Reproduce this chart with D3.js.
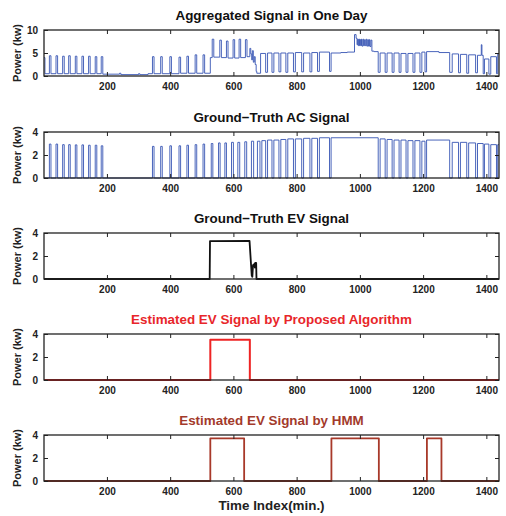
<!DOCTYPE html>
<html>
<head>
<meta charset="utf-8">
<script src="https://cdn.jsdelivr.net/npm/d3@7"></script>
<style>
  body { margin: 0; background: #fff; }
  svg { display: block; font-family: "Liberation Sans", Arial, sans-serif; }
  .title { font-weight: bold; font-size: 13.4px; text-anchor: middle; }
  .tick text { font-weight: bold; font-size: 10px; fill: #222; }
  .ylab { font-weight: bold; font-size: 11px; text-anchor: middle; fill: #222; }
</style>
</head>
<body>
<svg width="506" height="516"></svg>
<script>
// step runs: [time index, value held until next entry]
var aggRuns = [
  [1,4.0],[4,0.5],
  [18,4.4],[23,0.5],[39,4.4],[44,0.5],[60,4.3],[65,0.5],[79,4.4],[84,0.5],[100,4.3],[105,0.5],
  [121,4.3],[126,0.5],[142,4.3],[147,0.5],[163,4.2],[168,0.5],[182,4.2],[187,0.4],
  [240,0.6],[244,0.3],[300,0.5],[304,0.3],[330,0.5],
  [344,4.2],[349,0.5],[370,4.2],[375,0.5],[399,4.2],[404,0.5],[428,4.1],[433,0.6],[453,4.3],[458,0.6],
  [479,4.6],[484,0.6],[504,4.6],[509,0.6],
  [527,4.0],[533,8.0],[538,4.1],[557,7.8],[562,4.0],[578,7.6],[583,3.9],[599,7.9],[604,3.9],
  [618,8.0],[623,4.0],[638,7.9],[643,4.2],
  [652,6.0],[655,4.8],[658,3.5],[660,5.5],[663,3.0],[666,4.2],[669,2.5],[672,1.0],[674,0.6],
  [686,4.9],[702,0.8],[708,5.0],[722,0.8],[728,5.0],[744,0.9],[750,5.0],[766,0.8],[772,5.0],
  [790,0.9],[796,5.1],[816,0.9],[822,5.0],[842,0.9],[848,5.1],[866,1.0],[872,5.2],[904,1.0],
  [909,5.0],[940,5.1],[960,5.2],
  [983,9.0],[988,8.2],[991,6.8],[993,8.0],[995,6.6],[997,8.0],[999,6.6],[1001,7.9],[1003,6.6],
  [1005,8.0],[1007,6.5],[1010,8.0],[1012,6.6],[1015,7.9],[1017,6.6],[1020,8.0],[1022,6.5],
  [1025,7.9],[1027,6.5],[1030,7.9],[1032,6.4],[1035,7.8],[1038,5.4],[1045,5.3],
  [1058,0.8],[1064,5.0],[1080,0.8],[1086,5.0],[1102,0.8],[1108,5.0],[1124,0.8],[1130,4.9],
  [1146,0.8],[1152,4.9],[1168,0.8],[1174,5.0],[1190,0.8],[1196,5.2],[1206,0.9],[1211,5.3],
  [1250,5.1],[1284,0.8],[1292,4.8],[1312,0.7],[1318,4.7],[1338,0.6],[1344,4.6],[1366,0.7],
  [1372,4.5],[1384,6.8],[1386,4.5],[1390,0.5],[1394,3.7],[1408,0.4],[1414,4.2],[1432,0.5],
  [1436,4.8],[1440,4.8]
];

var acRuns = [
  [1,0],
  [18,2.95],[23,0],[39,2.95],[44,0],[60,2.9],[65,0],[79,2.9],[84,0],[100,2.88],[105,0],
  [121,2.88],[126,0],[142,2.85],[147,0],[163,2.85],[168,0],[182,2.8],[187,0],
  [344,2.75],[349,0],[370,2.75],[375,0],[399,2.8],[404,0],[428,2.8],[433,0],[453,2.85],[458,0],
  [479,2.9],[484,0],[504,2.95],[509,0],[530,3.0],[535,0],[553,3.05],[558,0],[573,3.05],[578,0],
  [594,3.1],[600,0],[614,3.1],[620,0],[636,3.15],[642,0],[657,3.2],[664,0],[676,3.2],[684,0],
  [690,3.25],[702,0],[708,3.3],[722,0],[728,3.3],[744,0],[750,3.35],[766,0],[772,3.4],[790,0],
  [796,3.4],[816,0],[822,3.45],[842,0],[848,3.45],[866,0],[872,3.5],[904,0],
  [909,3.5],[1058,0],
  [1064,3.4],[1080,0],[1086,3.35],[1102,0],[1108,3.3],[1124,0],[1130,3.3],[1146,0],
  [1152,3.25],[1168,0],[1174,3.25],[1190,0],[1196,3.2],[1206,0],[1211,3.3],[1284,0],
  [1292,3.1],[1312,0],[1318,3.1],[1338,0],[1344,3.05],[1366,0],[1372,3.0],[1390,0],
  [1394,2.95],[1408,0],[1414,2.9],[1432,0],[1436,2.9],[1440,2.9]
];

// ground truth EV (points, linear)
var evPts = [
  [1,0],[525,0],[526,3.3],[651,3.32],[658,0.3],[660,0.2],[662,1.2],[666,1.3],[668,1.0],
  [669,1.4],[672,1.4],[673,0],[1440,0]
];

var propRuns = [[1,0],[527,3.5],[652,0],[1440,0]];
var hmmRuns = [[1,0],[527,3.7],[634,0],[910,3.7],[1060,0],[1212,3.7],[1258,0],[1440,0]];

var titles = [
  "Aggregated Signal in One Day",
  "Ground\u2212Truth AC Signal",
  "Ground\u2212Truth EV Signal",
  "Estimated EV Signal by Proposed Algorithm",
  "Estimated EV Signal by HMM"
];
var titleColors = ["#111", "#111", "#111", "#e8262a", "#a33a2b"];
var lineColors = ["#3553b3", "#3553b3", "#111", "#ee2424", "#a8392a"];
var lineWidths = [0.9, 0.9, 1.8, 2, 1.8];
var yMax = [10, 4, 4, 4, 4];
var yTicks = [[0,5,10],[0,2,4],[0,2,4],[0,2,4],[0,2,4]];
var xTicks = [200, 400, 600, 800, 1000, 1200, 1400];
var series = [aggRuns, acRuns, evPts, propRuns, hmmRuns];
var stepped = [true, true, false, true, true];

var svg = d3.select("svg");
var left = 44, right = 499, ph = 46;
var tops = [30, 132, 233, 334, 435];
var fmt = d3.format("d");

var x = d3.scaleLinear().domain([1, 1440]).range([left, right]);

tops.forEach(function(top, i) {
  var y = d3.scaleLinear().domain([0, yMax[i]]).range([top + ph, top]);
  var g = svg.append("g");

  g.append("clipPath").attr("id", "clip" + i)
    .append("rect").attr("x", left).attr("y", top - 2).attr("width", right - left).attr("height", ph + 3);

  var line = d3.line()
    .x(function(d) { return x(d[0]); })
    .y(function(d) { return y(d[1]); })
    .curve(stepped[i] ? d3.curveStepAfter : d3.curveLinear);

  g.append("path")
    .datum(series[i])
    .attr("clip-path", "url(#clip" + i + ")")
    .attr("fill", "none")
    .attr("stroke", lineColors[i])
    .attr("stroke-width", lineWidths[i])
    .attr("stroke-linejoin", "round")
    .attr("d", line);

  // axes, matlab style: ticks inside on all sides
  g.append("g").attr("transform", "translate(0," + (top + ph) + ")")
    .call(d3.axisBottom(x).tickValues(xTicks).tickFormat(fmt).tickSizeInner(-4).tickSizeOuter(0).tickPadding(7))
    .call(function(a) { a.select(".domain").remove(); });
  g.append("g").attr("transform", "translate(0," + top + ")")
    .call(d3.axisTop(x).tickValues(xTicks).tickSizeInner(-4).tickSizeOuter(0).tickFormat(""))
    .call(function(a) { a.select(".domain").remove(); });
  g.append("g").attr("transform", "translate(" + left + ",0)")
    .call(d3.axisLeft(y).tickValues(yTicks[i]).tickFormat(fmt).tickSizeInner(-4).tickSizeOuter(0).tickPadding(6))
    .call(function(a) { a.select(".domain").remove(); });
  g.append("g").attr("transform", "translate(" + right + ",0)")
    .call(d3.axisRight(y).tickValues(yTicks[i]).tickSizeInner(-4).tickSizeOuter(0).tickFormat(""))
    .call(function(a) { a.select(".domain").remove(); });
  g.selectAll(".tick line").attr("stroke", "#222");

  g.append("rect")
    .attr("x", left).attr("y", top)
    .attr("width", right - left).attr("height", ph)
    .attr("fill", "none").attr("stroke", "#222").attr("stroke-width", 1.3);

  g.append("text").attr("class", "title")
    .attr("x", (left + right) / 2).attr("y", top - 10)
    .attr("fill", titleColors[i])
    .text(titles[i]);

  g.append("text").attr("class", "ylab")
    .attr("transform", "translate(21," + (top + ph / 2) + ") rotate(-90)")
    .text("Power (kw)");
});

svg.append("text").attr("class", "title")
  .attr("x", (left + right) / 2).attr("y", 510)
  .attr("fill", "#222")
  .text("Time Index(min.)");
</script>
</body>
</html>
